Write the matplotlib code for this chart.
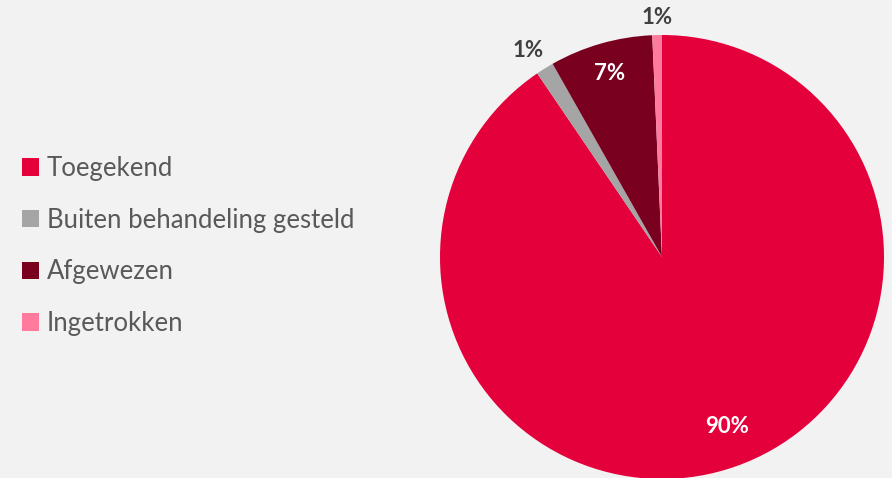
import numpy as np
import matplotlib
matplotlib.use("Agg")
import matplotlib.pyplot as plt

# data
categories = ["Toegekend", "Buiten behandeling gesteld", "Afgewezen", "Ingetrokken"]
values = [90.5, 1.3, 7.5, 0.7]
pct_labels = ["90%", "1%", "7%", "1%"]

colors = ["#E4003B", "#A5A5A5", "#7A0020", "#FF7A9C"]
label_dist = [0.82, 1.11, 0.86, 1.08]
label_shift = [4, 1, 0, 0]   # degrees
label_color = ["white", "#404040", "white", "#404040"]

plt.rcParams['font.family'] = ['Lato', 'DejaVu Sans']

fig = plt.figure(figsize=(8.92, 4.78), dpi=100)
fig.patch.set_facecolor("#F2F2F2")

# pie axes: centre (662,257) px, radius 222 px
W, H = 892, 478
cx, cy, r = 662, 257, 222
ax = fig.add_axes([(cx - r) / W, (H - cy - r) / H, 2 * r / W, 2 * r / H])
ax.set_facecolor("none")

wedges, _ = ax.pie(values, colors=colors, startangle=90, counterclock=False,
                   radius=1, wedgeprops=dict(linewidth=0))
ax.set_xlim(-1, 1)
ax.set_ylim(-1, 1)
ax.set_aspect("equal")
ax.axis("off")

for w, lab, d, s, c in zip(wedges, pct_labels, label_dist, label_shift, label_color):
    ang = np.deg2rad((w.theta1 + w.theta2) / 2 + s)
    ax.text(d * np.cos(ang), d * np.sin(ang), lab, ha="center", va="center",
            fontsize=16, fontweight="bold", color=c, clip_on=False)

leg = fig.legend(wedges, categories, loc="center left",
                 bbox_to_anchor=(22 / W, (H - 246) / H),
                 frameon=False, fontsize=18.5, labelcolor="#595959",
                 handlelength=0.66, handleheight=0.66, handletextpad=0.3,
                 labelspacing=1.04, borderpad=0, borderaxespad=0)

fig.savefig("out.png", dpi=100, facecolor=fig.get_facecolor())
